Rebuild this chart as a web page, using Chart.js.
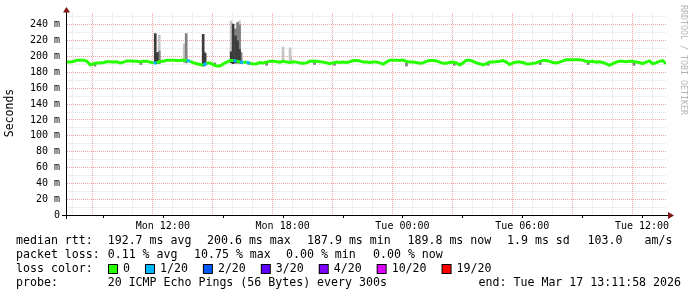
<!DOCTYPE html>
<html lang="en">
<head>
  <meta charset="UTF-8">
  <title>Smokeping latency</title>
  <script src="https://cdn.jsdelivr.net/npm/chart.js"></script>
  <style>
    body { margin: 0; background: #fff; }
    #rtt { display: block; }
  </style>
</head>
<body>
  <canvas id="rtt" width="697" height="297"></canvas>
  <script>
    // time axis in hours since Mon 00:00, one median sample every 10 minutes
    const startHour = 7.2;
    const endHour = 37.2;
    const stepHours = 1 / 6;

    const xTickHours = [8,9,10,11,12,13,14,15,16,17,18,19,20,21,22,23,24,25,26,27,28,29,30,31,32,33,34,35,36,37];
    const xLabelHours = [12, 18, 24, 30, 36];
    const xLabels = ['Mon 12:00', 'Mon 18:00', 'Tue 00:00', 'Tue 06:00', 'Tue 12:00'];
    const yTicks = [0,10,20,30,40,50,60,70,80,90,100,110,120,130,140,150,160,170,180,190,200,210,220,230,240,250];

    // median rtt in ms
    const medianRtt = [
      193, 193, 194, 195.5, 195.5, 195.5, 194, 189.5, 191, 192,
      192, 192.5, 193.5, 193.5, 193, 193.5, 192, 193, 194.5, 194.5,
      194, 194, 193.5, 194, 194, 193, 192, 192, 194, 194,
      195.5, 195.5, 195.5, 195, 195, 195.5, 195, 194, 192, 191,
      190, 189, 192, 192, 189.5, 188, 188, 191, 193, 195,
      195, 194.5, 193, 192.5, 193, 191.5, 190.5, 191, 192.5, 192,
      193, 194, 194, 193.5, 193, 194, 193, 192.5, 193.5, 193,
      192, 191.5, 192, 194, 194.5, 194, 193.5, 193, 192, 191,
      192, 193, 192.5, 193, 192.5, 193.5, 195, 195, 194.5, 193,
      193, 192.5, 193, 193, 192, 190.5, 193, 195.5, 195.5, 195.5,
      195, 195.5, 194, 193, 193, 192.5, 191.5, 192, 194, 195,
      195, 194.5, 193, 191.5, 191.5, 192.5, 193, 192, 189.5, 192,
      195.5, 195.5, 194, 192, 191, 189.5, 191, 193, 193, 193.5,
      194, 195, 193, 190, 192, 193, 193, 192.5, 191, 190.5,
      191.5, 192, 194, 195, 195, 194, 192.5, 192, 193, 194.5,
      196, 196, 196, 196, 196, 195.5, 194, 193.5, 194, 193,
      193.5, 192.5, 191, 189, 191, 193, 194, 194, 193.5, 194,
      194, 193, 192.5, 191, 193, 194.5, 191, 192, 194, 195,
      191
    ];

    // samples with lost pings (index into medianRtt, pings lost of 20)
    const lossIndex = [26, 36, 41, 50, 52, 54];
    const lossPings = [1, 1, 1, 1, 1, 1];

    const lossLabels = ['0', '1/20', '2/20', '3/20', '4/20', '10/20', '19/20'];
    const lossColors = ['#26ff00', '#00b8ff', '#0059ff', '#5e00ff', '#7e00ff', '#dd00ff', '#ff0000'];

    // smoke: [hour, low ms, high ms]
    const smokeDark = [
      [11.62, 191, 229], [11.72, 191, 205], [14.02, 188, 228], [14.12, 189, 204],
      [15.42, 192, 206], [15.52, 191, 241], [15.64, 192, 226], [15.74, 192, 220], [15.84, 192, 209]
    ];
    const smokeMid = [
      [11.82, 191, 207], [13.17, 192, 229], [14.07, 190, 206], [15.64, 192, 235],
      [15.74, 192, 243], [15.84, 192, 240], [15.92, 191, 205],
      [8.6, 188, 192], [10.9, 190, 193], [14.6, 189, 192], [16.3, 190, 193], [17.2, 189, 192],
      [19.6, 190, 193], [20.6, 189, 192], [24.2, 188, 192], [26.6, 189, 192], [28.3, 189, 193],
      [30.9, 190, 193], [33.3, 190, 193], [35.6, 189, 193]
    ];
    const smokeLight = [
      [11.82, 191, 227], [13.07, 192, 216], [15.42, 205, 245], [15.84, 192, 245],
      [18.02, 196, 212], [18.37, 195, 211], [18.4, 193, 200]
    ];

    const statsRtt = ['192.7 ms avg', '200.6 ms max', '187.9 ms min', '189.8 ms now', '1.9 ms sd', '103.0', 'am/s'];
    const statsLoss = ['0.11 % avg', '10.75 % max', '0.00 % min', '0.00 % now'];
    const probeText = '20 ICMP Echo Pings (56 Bytes) every 300s';
    const endText = 'end: Tue Mar 17 13:11:58 2026';

    const mono = '"DejaVu Sans Mono", monospace';
    const majorGrid = 'rgba(235,105,105,0.6)';
    const minorGrid = 'rgba(200,200,200,0.55)';

    function lossColorFor(n) {
      if (n <= 0) return lossColors[0];
      if (n <= 3) return lossColors[n];
      if (n < 10) return lossColors[4];
      if (n < 19) return lossColors[5];
      return lossColors[6];
    }
    function lossAt(i) {
      const k = lossIndex.indexOf(i);
      return k < 0 ? 0 : lossPings[k];
    }

    function smokeSet(rows, color, order) {
      return {
        type: 'bar',
        data: rows.map(r => ({ x: r[0], y: [r[1], r[2]] })),
        backgroundColor: color,
        borderWidth: 0,
        barThickness: 2,
        grouped: false,
        order: order
      };
    }

    // axes, arrows, watermark and the legend block below the plot
    const frame = {
      id: 'frame',
      afterDraw(chart) {
        const c = chart.ctx;
        const a = chart.chartArea;
        const xs = chart.scales.x;
        c.save();
        c.fillStyle = '#000';
        c.fillRect(a.left - 5, a.bottom, a.right - a.left + 8, 1);
        c.fillRect(a.left - 1, a.top - 1, 1, a.bottom - a.top + 5);
        xTickHours.filter(h => h % 3 === 0).forEach(h => {
          c.fillRect(Math.round(xs.getPixelForValue(h)), a.bottom + 1, 1, 2);
        });

        c.fillStyle = '#7f1616';
        c.beginPath();
        c.moveTo(a.left - 4, a.top - 0.5);
        c.lineTo(a.left + 3, a.top - 0.5);
        c.lineTo(a.left - 0.5, a.top - 6);
        c.fill();
        c.beginPath();
        c.moveTo(a.right + 2, a.bottom - 3);
        c.lineTo(a.right + 2, a.bottom + 4);
        c.lineTo(a.right + 8, a.bottom + 0.5);
        c.fill();

        // y title
        c.fillStyle = '#000';
        c.font = '11.5px ' + mono;
        c.textAlign = 'center';
        c.textBaseline = 'middle';
        c.translate(10, 113);
        c.rotate(-Math.PI / 2);
        c.fillText('Seconds', 0, 0);
        c.setTransform(1, 0, 0, 1, 0, 0);

        // watermark
        c.fillStyle = '#b4b4b4';
        c.font = '8.3px ' + mono;
        c.textAlign = 'left';
        c.translate(683, 5);
        c.rotate(Math.PI / 2);
        c.fillText('RRDTOOL / TOBI OETIKER', 0, 0);
        c.setTransform(1, 0, 0, 1, 0, 0);

        // legend
        c.fillStyle = '#000';
        c.font = '11.6px ' + mono;
        c.textAlign = 'left';
        c.textBaseline = 'middle';
        c.fillText('median rtt:', 16, 241);
        [107.7, 207, 307, 407.5, 507, 587.5, 644.5].forEach((x, i) => c.fillText(statsRtt[i], x, 241));
        c.fillText('packet loss:', 16, 255);
        [107.7, 194, 286, 373].forEach((x, i) => c.fillText(statsLoss[i], x, 255));
        c.fillText('loss color:', 16, 269);
        let x = 108;
        lossLabels.forEach((lab, i) => {
          c.fillStyle = '#000';
          c.fillRect(x, 264, 10, 10);
          c.fillStyle = lossColors[i];
          c.fillRect(x + 1, 265, 8, 8);
          c.fillStyle = '#000';
          c.fillText(lab, x + 15, 269);
          x += 15 + c.measureText(lab).width + 15;
        });
        c.fillText('probe:', 16, 283);
        c.fillText(probeText, 107.7, 283);
        c.textAlign = 'right';
        c.fillText(endText, 681, 283);
        c.restore();
      }
    };

    const ctx = document.getElementById('rtt').getContext('2d');
    const chart = new Chart(ctx, {
      type: 'line',
      data: {
        datasets: [
          {
            type: 'line',
            data: medianRtt.map((v, i) => ({ x: startHour + i * stepHours, y: v })),
            borderColor: lossColors[0],
            borderWidth: 3,
            pointRadius: 0,
            tension: 0,
            order: 0,
            segment: {
              borderColor: s => lossColorFor(lossAt(s.p0DataIndex))
            }
          },
          smokeSet(smokeDark, '#3c3c3c', 1),
          smokeSet(smokeMid, '#808080', 2),
          smokeSet(smokeLight, '#c4c4c4', 3)
        ]
      },
      options: {
        responsive: false,
        animation: false,
        layout: { padding: { left: 0, right: 31, top: 13, bottom: 0 } },
        plugins: { legend: { display: false }, tooltip: { enabled: false } },
        scales: {
          x: {
            type: 'linear',
            min: startHour,
            max: endHour,
            offset: false,
            afterBuildTicks: s => { s.ticks = xTickHours.map(v => ({ value: v })); },
            afterFit: s => { s.height = 82; },
            grid: {
              drawTicks: false,
              color: c => (c.tick && c.tick.value % 3 === 0) ? majorGrid : minorGrid
            },
            border: { display: false, dash: [1, 1] },
            ticks: {
              autoSkip: false,
              maxRotation: 0,
              padding: 5,
              color: '#000',
              font: { family: mono, size: 10 },
              callback: v => {
                const k = xLabelHours.indexOf(v);
                return k < 0 ? '' : xLabels[k];
              }
            }
          },
          y: {
            type: 'linear',
            min: 0,
            max: 255,
            afterBuildTicks: s => { s.ticks = yTicks.map(v => ({ value: v })); },
            afterFit: s => { s.width = 67; },
            grid: {
              drawTicks: false,
              color: c => (c.tick && c.tick.value % 20 === 0) ? majorGrid : minorGrid
            },
            border: { display: false, dash: [1, 1] },
            ticks: {
              autoSkip: false,
              padding: 7,
              color: '#000',
              font: { family: mono, size: 10 },
              callback: v => v % 20 !== 0 ? '' : (v === 0 ? '0' : v + ' m')
            }
          }
        }
      },
      plugins: [frame]
    });
  </script>
</body>
</html>
